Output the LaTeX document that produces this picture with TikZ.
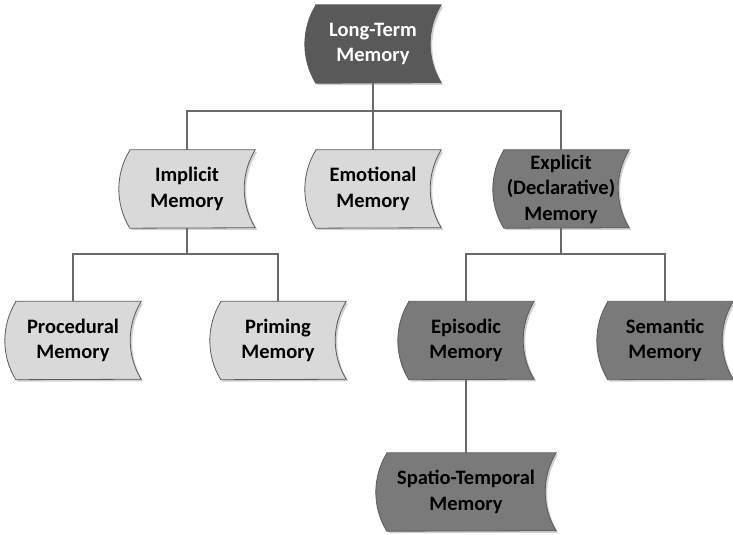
\documentclass[tikz,border=0pt]{standalone}
\usepackage{fontspec}
\setmainfont{Carlito}
\usetikzlibrary{calc}
\pgfdeclarelayer{background}
\pgfdeclarelayer{canvas}
\pgfsetlayers{canvas,background,main}
\definecolor{darkfill}{HTML}{595959}
\definecolor{midfill}{HTML}{7A7A7A}
\definecolor{lightfill}{HTML}{D9D9D9}
\definecolor{edgec}{HTML}{5A5A5A}
\definecolor{linkc}{HTML}{6A6A6A}
\tikzset{
  mem/.style={rectangle, inner sep=0pt, minimum width=136pt, minimum height=78pt,
    align=center, font=\bfseries\fontsize{20.5}{25.5}\selectfont},
  link/.style={draw=linkc, line width=1.1pt},
  % stored-data outline: convex left side, concave right side
  memshape/.style={insert path={
    ([xshift=11pt]#1.north west) -- (#1.north east)
    arc[start angle=148.5, end angle=211.5, radius=74.6pt]
    -- ([xshift=11pt]#1.south west)
    arc[start angle=211.5, end angle=148.5, radius=74.6pt] -- cycle}},
}
\begin{document}
\begin{tikzpicture}[x=1pt, y=1pt]
\useasboundingbox (0,0) rectangle (733,535);
\begin{pgfonlayer}{canvas}
\fill[white] (0,0) rectangle (733,535);
\end{pgfonlayer}

\node[mem, text=white] (ltm) at (373,491) {Long-Term\\Memory};
\node[mem] (imp) at (187,346) {Implicit\\Memory};
\node[mem] (emo) at (373,346) {Emotional\\Memory};
\node[mem] (exp) at (561,346) {Explicit\\(Declarative)\\Memory};
\node[mem] (proc) at (73,194.5) {Procedural\\Memory};
\node[mem] (prim) at (278,194.5) {Priming\\Memory};
\node[mem] (epi) at (466,194.5) {Episodic\\Memory};
\node[mem] (sem) at (665,194.5) {Semantic\\Memory};
\node[mem, minimum width=180pt] (spt) at (466,43) {Spatio-Temporal\\Memory};

\begin{pgfonlayer}{background}
\foreach \n/\c in {ltm/darkfill, imp/lightfill, emo/lightfill, exp/midfill,
                   proc/lightfill, prim/lightfill, epi/midfill, sem/midfill, spt/midfill} {
  \fill[black!18, transform canvas={shift={(2pt,-2pt)}}] [memshape=\n];
  \filldraw[fill=\c, draw=edgec, line width=0.8pt] [memshape=\n];
}
\end{pgfonlayer}

% junctions of the tree
\coordinate (j1) at (373,424);
\coordinate (j2) at (187,281);
\coordinate (j3) at (561,281);

\draw[link] (ltm.south) -- (j1);
\draw[link] (j1) -| (imp.north);
\draw[link] (j1) -- (emo.north);
\draw[link] (j1) -| (exp.north);

\draw[link] (imp.south) -- (j2);
\draw[link] (j2) -| (proc.north);
\draw[link] (j2) -| (prim.north);

\draw[link] (exp.south) -- (j3);
\draw[link] (j3) -| (epi.north);
\draw[link] (j3) -| (sem.north);

\draw[link] (epi.south) -- (spt.north);
\end{tikzpicture}
\end{document}
